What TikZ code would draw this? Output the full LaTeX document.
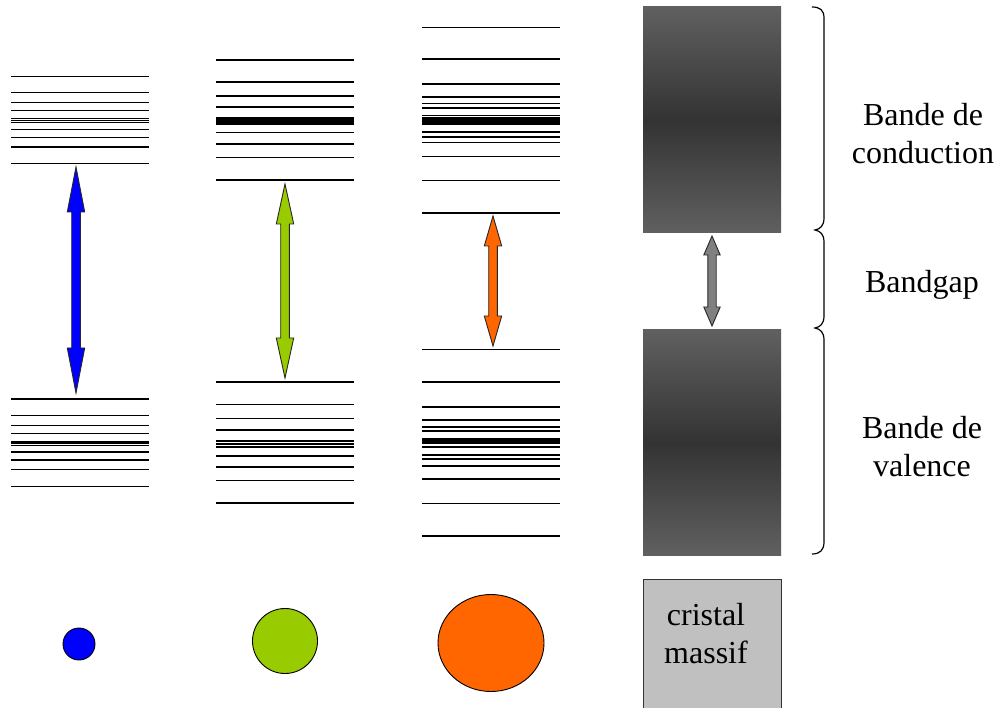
\documentclass[tikz,border=0pt]{standalone}
\usepackage{fontspec}
\setmainfont{Liberation Serif}
\definecolor{qblue}{HTML}{0000FF}
\definecolor{qgreen}{HTML}{99CC00}
\definecolor{qorange}{HTML}{FF6600}
\definecolor{qgray}{HTML}{808080}
\definecolor{boxgray}{HTML}{C0C0C0}
\definecolor{bandedge}{HTML}{606060}
\definecolor{bandmid}{HTML}{333333}
\newcommand{\bandarrow}[7]{%
  \filldraw[#1,draw=black!85,line width=0.9pt,line join=miter]
    (#2,#3) -- ({#2+#6},{#3+#7}) -- ({#2+#5},{#3+#7}) -- ({#2+#5},{#4-#7})
    -- ({#2+#6},{#4-#7}) -- (#2,#4) -- ({#2-#6},{#4-#7}) -- ({#2-#5},{#4-#7})
    -- ({#2-#5},{#3+#7}) -- ({#2-#6},{#3+#7}) -- cycle;}
\tikzset{
  level/.style={line width=1.6pt,black},
  lbl/.style={font=\fontsize{32}{38}\selectfont,align=center,inner sep=0pt},
  dot/.style={draw=black,line width=0.9pt},
  bandbox/.style={top color=bandedge,bottom color=bandedge,middle color=bandmid},
}
\begin{document}
\begin{tikzpicture}[x=1pt,y=-1pt]
\useasboundingbox[fill=white] (0,0) rectangle (996,708);
% stack 1
\foreach \y in {76.7,92.7,102.7,110.7,118.7,120.7,122.7,129.7,137.7,147.3,163.7,
                399.3,415.7,425.3,433.3,441.7,443.3,445.3,452,460,469.3,486.3}
  \draw[level] (11,\y) -- (149,\y);
% stack 2
\foreach \y in {60,82.3,96.3,107,118.3,120.3,122.3,124,132.7,144,157.7,180.3,
                382,404.7,418.7,430,440.7,444,446.7,456,466.7,480.3,503}
  \draw[level] (216,\y) -- (354,\y);
% stack 3
\foreach \y in {27.7,59.3,84,97,103.7,108,115.7,118,120,122,124,132,137,142.7,156.7,180.7,213,
                349.7,382,407,420,426.7,430.7,438.7,440.7,443,446.7,455,458.7,465.7,479,503.3,535.7}
  \draw[level] (422,\y) -- (560,\y);
% bulk bands
\shade[bandbox] (643,7) rectangle (781,233);
\shade[bandbox] (643,330) rectangle (781,555);
% arrows
\bandarrow{qblue}{76}{167}{393}{4.3}{8.7}{45}
\bandarrow{qgreen}{285}{184}{378}{4.3}{8.7}{40}
\bandarrow{qorange}{493}{216}{346}{4.3}{8.7}{30}
\bandarrow{qgray}{712}{236}{326}{4.2}{8.2}{19}
% braces
\draw[line width=1.2pt]
  (812,7) .. controls (820,7) and (824,10) .. (824,18) -- (824,218)
  .. controls (824,226) and (820,229) .. (815,230)
  .. controls (820,231) and (824,234) .. (824,242) -- (824,316)
  .. controls (824,324) and (820,327) .. (815,328)
  .. controls (820,329) and (824,332) .. (824,340) -- (824,542)
  .. controls (824,550) and (820,554) .. (812,554);
% labels
\node[lbl] (cond) at (923,134) {Bande de\\conduction};
\node[lbl] (gap) at (922,285) {Bandgap};
\node[lbl] (val) at (922,447) {Bande de\\valence};
% particles
\draw[dot,fill=qblue] (79,644) circle (16);
\draw[dot,fill=qgreen] (285,641) circle (32.5);
\draw[dot,fill=qorange] (491,643) ellipse (53 and 48.5);
% bulk crystal
\draw[fill=boxgray,draw=black!80,line width=1pt] (643,579) rectangle (781,715);
\node[lbl] (bulk) at (706,634) {cristal\\massif};
\end{tikzpicture}
\end{document}
